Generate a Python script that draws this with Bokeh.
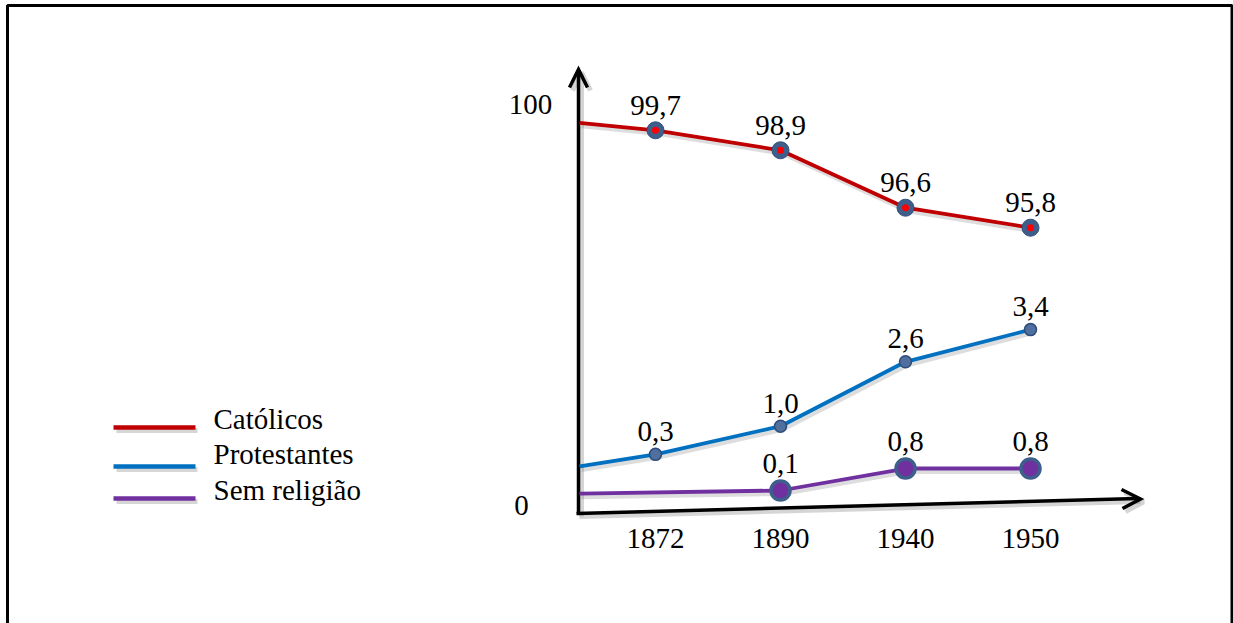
import numpy as np
from bokeh.plotting import figure
from bokeh.models import Range1d
from bokeh.core.properties import value
from bokeh.embed import file_html
from bokeh.resources import INLINE

# --- data -------------------------------------------------------------
anos = ["1872", "1890", "1940", "1950"]
catolicos = [99.7, 98.9, 96.6, 95.8]
protestantes = [0.3, 1.0, 2.6, 3.4]
sem_religiao = [np.nan, 0.1, 0.8, 0.8]
# level at which each line leaves the vertical axis
inicio_catolicos = 100.0
inicio_protestantes = 0.0
inicio_sem_religiao = 0.0
nomes = ["Católicos", "Protestantes", "Sem religião"]
eixo_y_valores = [0, 100]
eixo_y_rotulos = ["0", "100"]

# --- canvas -----------------------------------------------------------
W, H = 1233, 623
FONT = value("Liberation Serif")
FS = "29px"

p = figure(width=W, height=H, x_range=Range1d(0, W), y_range=Range1d(H, 0),
           output_backend="svg", toolbar_location=None, min_border=0,
           x_axis_location=None, y_axis_location=None)
p.grid.visible = False
p.outline_line_color = None
p.background_fill_color = "white"
p.border_fill_color = "white"

# categorical year positions along the horizontal axis
X0, DX = 655.0, 125.0
p.extra_x_ranges = {"ano": Range1d((0 - X0) / DX, (W - X0) / DX)}


def faixa(v_ref, px_ref, px_por_un):
    """Range whose value v_ref lands at screen row px_ref."""
    return Range1d(v_ref - (H - px_ref) / px_por_un, v_ref + px_ref / px_por_un)


ESCALAS = {"cat": (97.75, 178.5, 24.97), "prot": (1.825, 392.5, 40.24),
           "sem": (0.1, 490.0, 31.4), "eixo": (0.0, 505.0, 4.01)}
p.extra_y_ranges = {k: faixa(*v) for k, v in ESCALAS.items()}

# frame around the figure
p.line([7, 7, 1231.5, 1231.5], [H, 5, 5, H], line_color="black", line_width=3)

# --- axes drawn as arrows ----------------------------------------------
SOMBRA = dict(line_color="#888888", line_alpha=0.35, line_width=5)
vert = ([578, 578], [513, 71])
vert_head = ([569, 578, 587], [87, 69, 87])
horiz = ([576, 1137], [513, 498])
horiz_head = ([1121, 1140, 1122], [489, 498.5, 508])
for xs, ys in (vert, vert_head, horiz, horiz_head):
    p.line([x + 3 for x in xs], [y + 3 for y in ys], **SOMBRA)
for xs, ys in (vert, vert_head, horiz, horiz_head):
    p.line(xs, ys, line_color="black", line_width=3.5, line_join="miter", line_cap="butt")

# y-axis end labels
p.text(x=[521, 530], y=eixo_y_valores, text=eixo_y_rotulos, y_range_name="eixo",
       text_font=FONT, text_font_size=FS, text_align="center",
       text_baseline="middle", text_color="black")

# year labels
idx = np.arange(len(anos))
p.text(x=idx, y=[538] * len(anos), text=anos, x_range_name="ano",
       text_font=FONT, text_font_size=FS, text_align="center",
       text_baseline="middle", text_color="black")

X_EIXO = (579 - X0) / DX


def rotulo(v):
    return f"{v:.1f}".replace(".", ",")


def serie(chave, valores, inicio, cor, dy_rotulo):
    vals = np.array(valores, dtype=float)
    ok = ~np.isnan(vals)
    xs = [X_EIXO] + list(idx[ok])
    ys = [inicio] + list(vals[ok])
    px = ESCALAS[chave][2]
    # soft drop shadow under the line
    p.line([x + 2 / DX for x in xs], [y - 3 / px for y in ys], line_color="#777777",
           line_alpha=0.25, line_width=5, x_range_name="ano", y_range_name=chave)
    p.line(xs, ys, line_color=cor, line_width=3.8, x_range_name="ano",
           y_range_name=chave, line_join="round")
    p.text(x=idx[ok], y=vals[ok], text=[rotulo(v) for v in vals[ok]],
           x_range_name="ano", y_range_name=chave, y_offset=dy_rotulo,
           text_font=FONT, text_font_size=FS, text_align="center",
           text_baseline="middle", text_color="black")
    return idx[ok], vals[ok]


cx, cy = serie("cat", catolicos, inicio_catolicos, "#C00000", -25)
p.scatter(cx, cy, size=17, fill_color="#3E5E8C", line_color="#34507A",
          line_width=1, x_range_name="ano", y_range_name="cat")
p.scatter(cx, cy, size=7, fill_color="#FF0000", line_color=None,
          x_range_name="ano", y_range_name="cat")

px_, py_ = serie("prot", protestantes, inicio_protestantes, "#0070C0", -23)
p.scatter(px_, py_, size=12, fill_color="#4F6F9F", line_color="#2E4C7A",
          line_width=1.5, x_range_name="ano", y_range_name="prot")

sx, sy = serie("sem", sem_religiao, inicio_sem_religiao, "#7030A0", -27)
p.scatter(sx, sy, size=19, fill_color="#7030A0", line_color="#3E5E8C",
          line_width=3.5, x_range_name="ano", y_range_name="sem")

# --- legend -------------------------------------------------------------
cores = ["#C00000", "#0070C0", "#7030A0"]
leg_linhas = [427, 466, 498]
leg_textos = [418, 453, 489]
for nome, cor, yl, yt in zip(nomes, cores, leg_linhas, leg_textos):
    p.line([116, 197], [yl + 3, yl + 3], line_color="#777777", line_alpha=0.3, line_width=5)
    p.line([113, 195], [yl, yl], line_color=cor, line_width=4.5)
    p.text(x=[213], y=[yt], text=[nome], text_font=FONT, text_font_size=FS,
           text_align="left", text_baseline="middle", text_color="black")

open("out.html", "w").write(file_html(p, INLINE))
